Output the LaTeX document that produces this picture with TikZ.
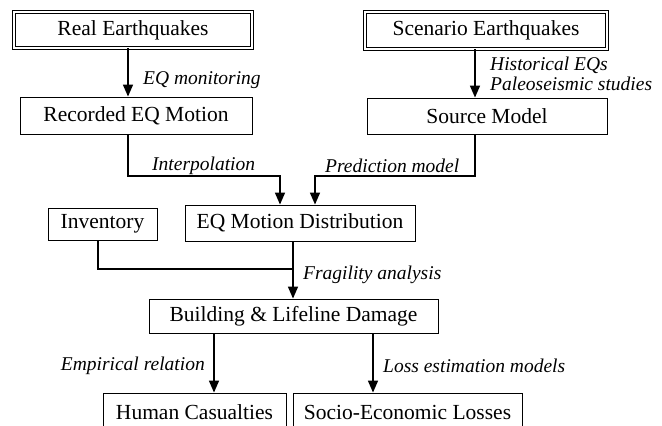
\documentclass[tikz,border=0pt]{standalone}
\usepackage{fontspec}
\setmainfont{Liberation Serif}
\usetikzlibrary{arrows.meta}
\begin{document}
\begin{tikzpicture}[x=1pt,y=-1pt,
  box/.style={draw,line width=0.9pt,inner sep=0pt,font=\fontsize{21.5}{24}\selectfont},
  dbox/.style={box,double,double distance=1.6pt,line width=0.8pt},
  arr/.style={line width=1.6pt,-{Triangle[length=12pt,width=10pt]}},
  conn/.style={line width=1.6pt},
  lab/.style={font=\fontsize{19.5}{20}\selectfont\itshape,inner sep=0pt}]
\useasboundingbox (0,0) rectangle (662,426);
\clip (0,0) rectangle (662,426);
% boxes
\node[dbox,minimum width=238pt,minimum height=36pt] (real) at (133,30) {Real Earthquakes};
\node[dbox,minimum width=242pt,minimum height=37pt] (scen) at (486,30.5) {Scenario Earthquakes};
\node[box,minimum width=232pt,minimum height=37pt] (rec) at (136,115.5) {Recorded EQ Motion};
\node[box,minimum width=240pt,minimum height=36pt] (src) at (487,116) {Source Model};
\node[box,minimum width=109pt,minimum height=32pt] (inv) at (102.5,224) {Inventory};
\node[box,minimum width=230pt,minimum height=36pt] (dist) at (300,223) {EQ Motion Distribution};
\node[box,minimum width=289pt,minimum height=34pt] (bld) at (293.5,316) {Building \& Lifeline Damage};
\node[box,minimum width=183pt,minimum height=38pt] (hum) at (194.5,412) {Human Casualties};
\node[box,minimum width=229pt,minimum height=38pt] (soc) at (407.5,412) {Socio-Economic Losses};
% guide coordinates
\coordinate (a1) at (128,0);
\coordinate (a2) at (475,0);
\coordinate (j1) at (280,176);
\coordinate (j2) at (315,176);
\coordinate (a3) at (98,0);
\coordinate (j3) at (293,269);
\coordinate (a4) at (214,0);
\coordinate (a5) at (373,0);
% connectors
\draw[arr] (real.south -| a1) -- (rec.north -| a1);
\draw[arr] (scen.south -| a2) -- (src.north -| a2);
\draw[arr] (rec.south -| a1) |- (j1) -- (dist.north -| j1);
\draw[arr] (src.south -| a2) |- (j2) -- (dist.north -| j2);
\draw[conn] (inv.south -| a3) |- (j3);
\draw[arr] (dist.south -| j3) -- (bld.north -| j3);
\draw[arr] (bld.south -| a4) -- (hum.north -| a4);
\draw[arr] (bld.south -| a5) -- (soc.north -| a5);
% labels
\node[lab,anchor=west] (l1) at (143,80) {EQ monitoring};
\node[lab,anchor=west,align=left] (l2) at (490,74) {Historical EQs\\Paleoseismic studies};
\node[lab,anchor=west] (l3) at (152,166) {Interpolation};
\node[lab,anchor=west] (l4) at (325,166) {Prediction model};
\node[lab,anchor=west] (l5) at (303,275) {Fragility analysis};
\node[lab,anchor=east] (l6) at (205,366) {Empirical relation};
\node[lab,anchor=west] (l7) at (383,366) {Loss estimation models};
\end{tikzpicture}
\end{document}
